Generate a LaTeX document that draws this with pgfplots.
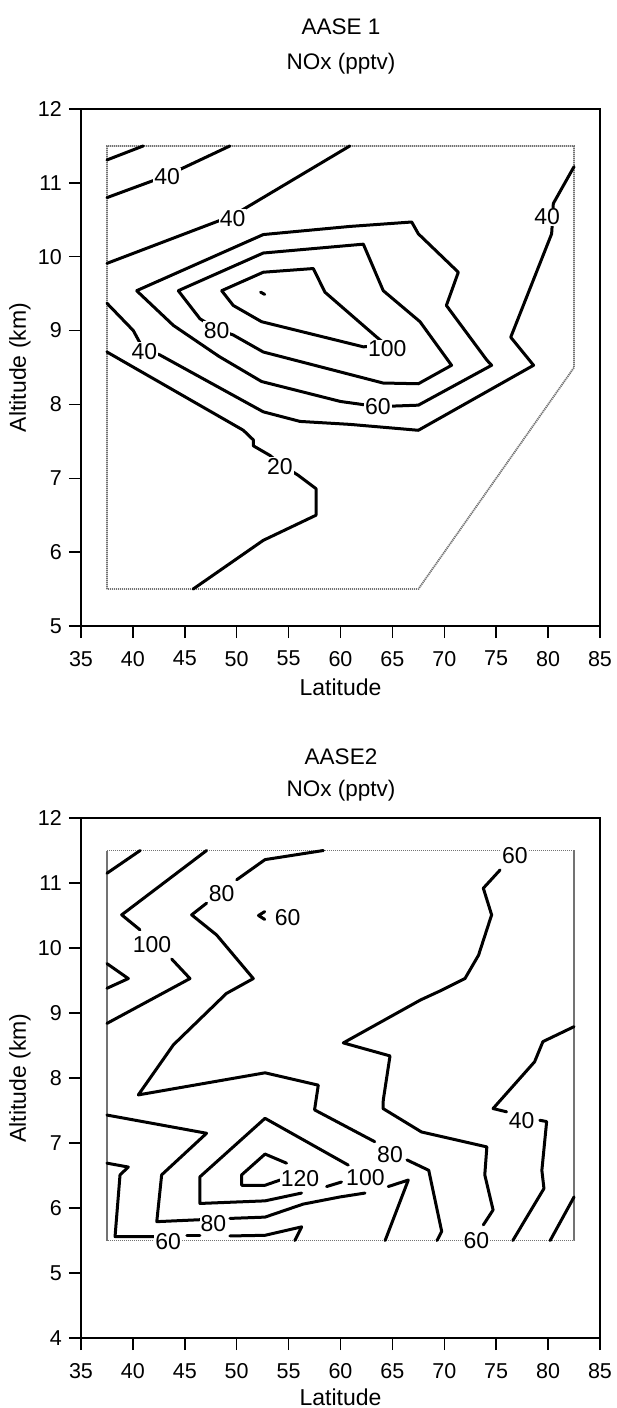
\documentclass[border=0pt]{standalone}
\usepackage{fontspec}
\setmainfont{Liberation Sans}
\usepackage{pgfplots}
\pgfplotsset{compat=1.18}
\pgfplotsset{
  chart/.style={
    scale only axis, width=519pt,
    xmin=35, xmax=85, xtick={35,40,...,85},
    tick align=outside, major tick length=12pt,
    xtick pos=left, ytick pos=left,
    axis line style={line width=2.2pt},
    every tick/.style={black, line width=1.5pt},
    /pgf/number format/assume math mode=true,
    tick label style={font=\fontsize{21.5pt}{26pt}\selectfont},
    xticklabel style={yshift=-6pt},
    label style={font=\fontsize{23pt}{27pt}\selectfont},
    xlabel={Latitude}, ylabel={Altitude (km)},
    ylabel style={at={(axis description cs:0,0.5)}, anchor=center, yshift=61pt},
    clip=false,
  },
  cl/.style={black, line width=3pt, line join=round, line cap=round, mark=none},
  bd/.style={black!55, line width=1.8pt, dash pattern=on 1.2pt off 0.8pt, mark=none},
}
\tikzset{lab/.style={font=\fontsize{23pt}{27pt}\selectfont, fill=white, inner sep=1pt},
         ttl/.style={font=\fontsize{22.5pt}{27pt}\selectfont}}
\begin{document}
\fontsize{21pt}{25pt}\selectfont
\begin{tikzpicture}
\useasboundingbox (-81pt,109pt) rectangle (536pt,-1299pt);
% ---------- top chart ----------
\begin{axis}[chart, at={(0pt,0pt)}, anchor=north west, height=517pt,
  ymin=5, ymax=12, ytick={5,...,12},
  xlabel style={at={(axis description cs:0.5,0)}, anchor=center, yshift=-61pt}]
\addplot[bd] coordinates {(37.5,5.5) (37.5,11.5) (82.5,11.5) (82.5,8.5) (67.5,5.5) (37.5,5.5)};
\addplot[cl] coordinates {(37.5,11.31) (41.0,11.5)};
\addplot[cl] coordinates {(37.5,10.80) (43.3,11.1) (49.35,11.5)};
\addplot[cl] coordinates {(37.5,9.91) (49.67,10.56) (60.9,11.5)};
\addplot[cl] coordinates {(37.5,9.37) (40.04,9.0) (41.0,8.75) (42.6,8.67) (52.56,7.90) (56.1,7.77) (60.9,7.73) (67.5,7.65) (78.6,8.53) (76.4,8.91) (80.34,10.31) (80.45,10.55) (80.5,10.72) (82.5,11.22)};
\addplot[cl] coordinates {(40.36,9.54) (52.56,10.30) (60.9,10.41) (66.86,10.47) (67.5,10.31) (71.35,9.79) (70.2,9.34) (74.1,8.6) (74.56,8.53) (67.5,7.99) (63.6,7.97) (60.0,8.04) (52.4,8.31) (48.3,8.65) (43.9,9.07) (40.36,9.54)};
\addplot[cl] coordinates {(44.37,9.54) (52.56,10.05) (62.2,10.17) (64.12,9.54) (67.66,9.12) (70.7,8.53) (67.5,8.28) (64.1,8.29) (52.56,8.71) (49.67,8.94) (48.07,9.02) (46.46,9.16) (44.37,9.54)};
\addplot[cl] coordinates {(48.55,9.54) (52.56,9.79) (57.38,9.84) (58.5,9.52) (63.5,8.91) (64.45,8.8) (62.2,8.78) (52.4,9.12) (49.67,9.34) (48.55,9.54)};
\addplot[cl] coordinates {(52.3,9.52) (52.7,9.49)};
\addplot[cl] coordinates {(37.5,8.71) (50.64,7.65) (51.6,7.52) (51.6,7.44) (53.2,7.31) (54.17,7.2) (55.93,7.04) (57.64,6.86) (57.64,6.50) (52.56,6.16) (45.8,5.5)};
\node[lab] at (axis cs:43.3,11.08) {40};
\node[lab] at (axis cs:49.6,10.52) {40};
\node[lab] at (axis cs:79.9,10.54) {40};
\node[lab] at (axis cs:41.1,8.72) {40};
\node[lab] at (axis cs:48.07,9.0) {80};
\node[lab] at (axis cs:64.5,8.75) {100};
\node[lab] at (axis cs:63.6,7.97) {60};
\node[lab] at (axis cs:54.17,7.16) {20};
\end{axis}
\node[ttl] at (260pt,82pt) {AASE 1};
\node[ttl] at (260pt,45pt) {NOx (pptv)};
% ---------- bottom chart ----------
\begin{axis}[chart, at={(0pt,-709pt)}, anchor=north west, height=520pt,
  ymin=4, ymax=12, ytick={4,...,12},
  xlabel style={at={(axis description cs:0.5,0)}, anchor=center, yshift=-59pt}]
\addplot[bd] coordinates {(37.5,5.5) (37.5,11.5) (82.5,11.5) (82.5,5.5) (37.5,5.5)};
\addplot[cl] coordinates {(37.5,11.15) (40.7,11.5)};
\addplot[cl] coordinates {(47.1,11.5) (38.92,10.51) (40.68,10.28)};
\addplot[cl] coordinates {(43.74,9.83) (45.5,9.53) (37.5,8.84)};
\addplot[cl] coordinates {(37.5,9.76) (39.56,9.53) (37.5,9.38)};
\addplot[cl] coordinates {(58.35,11.5) (52.73,11.36) (50.0,11.05)};
\addplot[cl] coordinates {(47.1,10.69) (45.66,10.51) (48.07,10.20) (51.6,9.53) (49.0,9.30) (43.9,8.51) (40.52,7.74) (52.73,8.08) (57.86,7.89) (57.5,7.51) (63.3,7.02)};
\addplot[cl] coordinates {(66.4,6.74) (68.5,6.58) (69.75,5.64) (69.3,5.5)};
\addplot[cl] coordinates {(52.7,10.56) (52.1,10.5) (52.7,10.44)};
\addplot[cl] coordinates {(75.37,11.2) (73.76,10.92) (74.56,10.51) (73.3,9.89) (71.99,9.53) (69.6,9.34) (67.7,9.2) (60.27,8.54) (64.77,8.34) (64.12,7.66) (64.1,7.53) (67.8,7.17) (74.1,6.94) (73.9,6.51) (74.7,5.97) (73.76,5.74)};
\addplot[cl] coordinates {(82.5,8.79) (79.5,8.56) (78.7,8.25) (74.7,7.53) (76.0,7.48)};
\addplot[cl] coordinates {(79.2,7.35) (79.86,7.33) (79.4,6.58) (79.6,6.30) (76.6,5.5)};
\addplot[cl] coordinates {(82.5,6.17) (80.2,5.5)};
\addplot[cl] coordinates {(60.75,6.66) (52.73,7.38) (46.46,6.48) (46.46,6.07) (52.73,6.11) (56.25,6.23)};
\addplot[cl] coordinates {(58.66,6.33) (60.1,6.40)};
\addplot[cl] coordinates {(64.6,6.33) (66.53,6.43) (64.3,5.5)};
\addplot[cl] coordinates {(37.5,7.43) (47.1,7.15) (42.77,6.51) (42.3,5.79) (46.46,5.82)};
\addplot[cl] coordinates {(49.35,5.84) (52.73,5.86) (56.4,6.06) (59.95,6.17) (62.36,6.23)};
\addplot[cl] coordinates {(37.5,6.69) (39.56,6.63) (38.76,6.51) (38.28,5.56) (42.3,5.56)};
\addplot[cl] coordinates {(45.2,5.57) (46.46,5.57)};
\addplot[cl] coordinates {(49.35,5.57) (52.73,5.58) (56.26,5.71) (55.6,5.5)};
\addplot[cl] coordinates {(54.8,6.69) (52.73,6.83) (50.48,6.51) (50.48,6.35) (52.73,6.35) (54.17,6.43)};
\node[lab] at (axis cs:41.85,10.06) {100};
\node[lab] at (axis cs:48.55,10.84) {80};
\node[lab] at (axis cs:54.9,10.47) {60};
\node[lab] at (axis cs:76.8,11.42) {60};
\node[lab] at (axis cs:77.45,7.35) {40};
\node[lab] at (axis cs:64.77,6.82) {80};
\node[lab] at (axis cs:62.4,6.47) {100};
\node[lab] at (axis cs:56.1,6.46) {120};
\node[lab] at (axis cs:47.75,5.76) {80};
\node[lab] at (axis cs:43.4,5.48) {60};
\node[lab] at (axis cs:73.1,5.5) {60};
\end{axis}
\node[ttl] at (260pt,-648pt) {AASE2};
\node[ttl] at (260pt,-682pt) {NOx (pptv)};
\end{tikzpicture}
\end{document}
